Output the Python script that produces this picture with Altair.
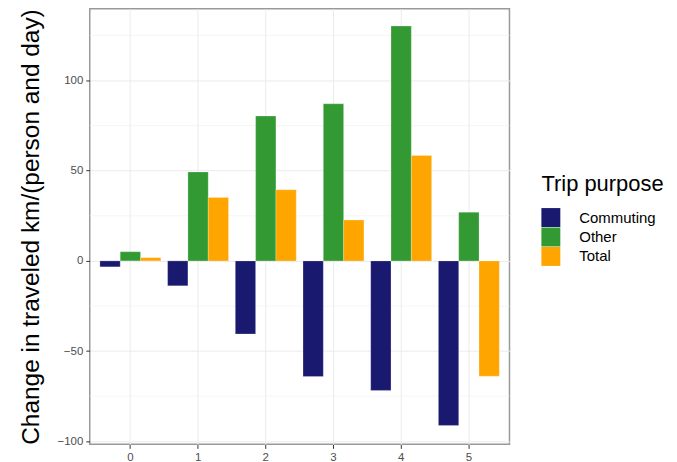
import altair as alt
import pandas as pd

x_vals = ["0", "1", "2", "3", "4", "5"]
commuting = [-3.3, -13.8, -40.5, -64.1, -71.8, -91.2]
other = [5.1, 49.3, 80.3, 87.1, 130.2, 27.0]
total = [1.8, 35.2, 39.4, 22.6, 58.4, -63.9]
purposes = ["Commuting", "Other", "Total"]
colors = ["#191970", "#339933", "#FFA500"]
major_y = [-100, -50, 0, 50, 100]
minor_y = [-75, -25, 25, 75, 125]

rows = []
for i, xv in enumerate(x_vals):
    for p, vals in zip(purposes, [commuting, other, total]):
        rows.append({"x": xv, "purpose": p, "value": vals[i]})
df = pd.DataFrame(rows)
minor_df = pd.DataFrame({"value": minor_y})

yscale = alt.Scale(domain=[-101.7, 139.8], nice=False, zero=False)
yaxis = alt.Axis(title="Change in traveled km/(person and day)", values=major_y,
                 labelFontSize=11.5, labelColor="#4d4d4d", tickColor="#333333",
                 tickSize=4, domain=False, grid=True, gridColor="#ebebeb",
                 titleFontSize=24.5, titleFontWeight="normal", titleColor="#000000",
                 titlePadding=14, labelPadding=3)

grid_minor = alt.Chart(minor_df).mark_rule(color="#f0f0f0", strokeWidth=0.7).encode(
    y=alt.Y("value:Q", scale=yscale, axis=yaxis)
)

bars = alt.Chart(df).mark_bar(stroke="#ffffff", strokeWidth=0.4, strokeOpacity=0.6).encode(
    x=alt.X("x:N", sort=x_vals,
            scale=alt.Scale(paddingInner=0.1, paddingOuter=0.15),
            axis=alt.Axis(title=None, labelAngle=0, labelFontSize=11.5, labelColor="#4d4d4d",
                          tickColor="#333333", tickSize=4, domain=False, grid=True,
                          gridColor="#ebebeb", bandPosition=0.5, labelPadding=3)),
    xOffset=alt.XOffset("purpose:N", sort=purposes, scale=alt.Scale(paddingInner=0, paddingOuter=0)),
    y=alt.Y("value:Q", scale=yscale, axis=yaxis),
    color=alt.Color("purpose:N", sort=purposes,
                    scale=alt.Scale(domain=purposes, range=colors),
                    legend=alt.Legend(title="Trip purpose", orient="none", legendX=453, legendY=166,
                                      titleFontSize=22, titleFontWeight="normal", titleColor="#000000",
                                      labelFontSize=15, labelColor="#000000", symbolType="square",
                                      symbolSize=361, symbolStrokeWidth=0, rowPadding=0.5,
                                      labelOffset=19, titlePadding=12)),
)

chart = alt.layer(grid_minor, bars).properties(
    width=421, height=437,
    autosize=alt.AutoSizeParams(type="none"),
    padding={"left": 82, "top": 0, "right": 160, "bottom": 17},
).configure(font="Liberation Sans").configure_view(stroke="#999999", strokeWidth=1.5)

chart.save("out.html", embed_options={"renderer": "svg", "actions": False})
